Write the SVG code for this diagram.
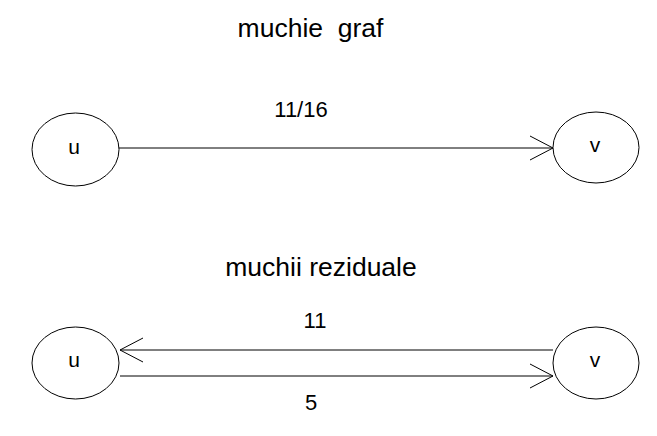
<svg xmlns="http://www.w3.org/2000/svg" width="657" height="436" viewBox="0 0 657 436">
<style>
.node ellipse{fill:#fff;stroke:#000;stroke-width:1}
.lbl{font-family:"Liberation Sans",Arial,sans-serif;fill:#000;text-anchor:middle;white-space:pre}
.nl{font-size:21px}
.el{font-size:22px}
.tt{font-size:26.5px}
.edge{stroke:#000;stroke-width:1;fill:none}
</style>
<defs>
<marker id="arr" markerUnits="userSpaceOnUse" markerWidth="30" markerHeight="30" viewBox="-26 -15 30 30" refX="0" refY="0" orient="auto">
<path d="M-23,-12 L0,0 L-23,12" fill="none" stroke="#000" stroke-width="1"/>
</marker>
</defs>
<rect width="657" height="436" fill="#fff"/>
<text class="lbl tt" x="310.5" y="37" xml:space="preserve">muchie  graf</text>
<text class="lbl tt" x="321" y="276">muchii reziduale</text>
<g id="connectors">
<line class="edge" x1="119" y1="148" x2="553" y2="148" marker-end="url(#arr)"/>
<line class="edge" x1="553" y1="350" x2="120" y2="350" marker-end="url(#arr)"/>
<line class="edge" x1="120" y1="376" x2="553" y2="376" marker-end="url(#arr)"/>
<text class="lbl el" x="301" y="117">11/16</text>
<text class="lbl el" x="315" y="328">11</text>
<text class="lbl el" x="311" y="410">5</text>
</g>
<g id="u1" class="node">
<ellipse cx="75.5" cy="149.5" rx="43.5" ry="36.5"/>
<text class="lbl nl" x="74" y="154">u</text>
</g>
<g id="v1" class="node">
<ellipse cx="596" cy="147.5" rx="43" ry="35.5"/>
<text class="lbl nl" x="595" y="152">v</text>
</g>
<g id="u2" class="node">
<ellipse cx="75.5" cy="363" rx="43.5" ry="36"/>
<text class="lbl nl" x="74" y="367">u</text>
</g>
<g id="v2" class="node">
<ellipse cx="596" cy="363" rx="43" ry="36"/>
<text class="lbl nl" x="595" y="367">v</text>
</g>
</svg>
